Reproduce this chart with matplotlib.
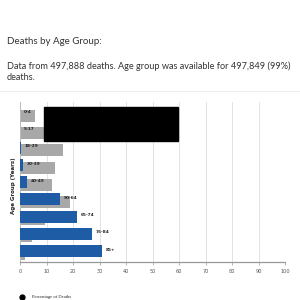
import matplotlib
matplotlib.use("Agg")
import matplotlib.pyplot as plt
from matplotlib.patches import Rectangle
from matplotlib.lines import Line2D

age_groups = ["0-4", "5-17", "18-29", "30-39", "40-49", "50-64", "65-74", "75-84", "85+"]
pct_deaths = [0.0, 0.1, 0.4, 1.1, 2.8, 15.1, 21.4, 27.0, 30.8]
pct_population = [5.7, 16.5, 16.1, 13.2, 12.0, 18.9, 9.4, 4.7, 1.9]
x_ticks = [0, 10, 20, 30, 40, 50, 60, 70, 80, 90, 100]

title = "Deaths by Age Group:"
subtitle = "Data from 497,888 deaths. Age group was available for 497,849 (99%)\ndeaths."

W, H = 300, 300
fig = plt.figure(figsize=(3, 3), dpi=100)
fig.patch.set_facecolor("white")

def fx(px):
    return px / W

def fy(py):
    return 1 - py / H

# text header
fig.text(fx(7), fy(42), title, family="Lato", fontsize=7, color="#333333", va="center", ha="left")
fig.text(fx(7), fy(61.5), subtitle, family="Lato", fontsize=6.6, color="#333333", va="top", ha="left",
         linespacing=1.3)
fig.add_artist(Line2D([0, 1], [fy(91.5), fy(91.5)], color="#eeeeee", lw=0.8, transform=fig.transFigure))

# axes
left, right, top, bottom = 20, 285, 102, 262
ax = fig.add_axes([fx(left), fy(bottom), (right - left) / W, (bottom - top) / H])
n = len(age_groups)
ys = list(range(n))
ax.set_xlim(0, 100)
ax.set_ylim(8.64, -0.66)

bh = 0.70
ax.barh([y + 0.15 for y in ys], pct_population, height=bh, color="#a8a8a8", zorder=2)
ax.barh(ys, pct_deaths, height=bh, color="#1f5ca6", zorder=3)

for y, lab, d in zip(ys, age_groups, pct_deaths):
    ax.text(d + 1.4, y - 0.08, lab, fontsize=3.1, fontweight="bold", color="#222222",
            va="center", ha="left", zorder=5)

ax.set_xticks(x_ticks)
ax.set_xticklabels([str(t) for t in x_ticks], fontsize=3.6, color="#555555")
ax.tick_params(axis="x", length=2, width=0.5, color="#999999", pad=3)
ax.set_yticks([])
ax.grid(axis="x", color="#e3e3e3", lw=0.7, zorder=0)
for s in ["top", "right"]:
    ax.spines[s].set_visible(False)
ax.spines["bottom"].set_color("#999999")
ax.spines["bottom"].set_linewidth(0.9)
ax.spines["left"].set_color("#bbbbbb")
ax.spines["left"].set_linewidth(0.7)

fig.text(fx(14), fy(186), "Age Group (Years)", rotation=90, fontsize=4, fontweight="bold",
         color="#222222", va="center", ha="center")

# tooltip overlay (black box)
fig.add_artist(Rectangle((fx(44), fy(141)), (178 - 44) / W, (141 - 107) / H,
                         transform=fig.transFigure, color="black", zorder=10))

# legend
fig.add_artist(Line2D([fx(22)], [fy(297)], marker="o", markersize=3.5, color="black",
                      transform=fig.transFigure))
fig.text(fx(32), fy(297), "Percentage of Deaths", family="Liberation Serif", fontsize=3.3,
         color="#222222", va="center", ha="left")

fig.savefig("out.png", dpi=100, facecolor="white")
